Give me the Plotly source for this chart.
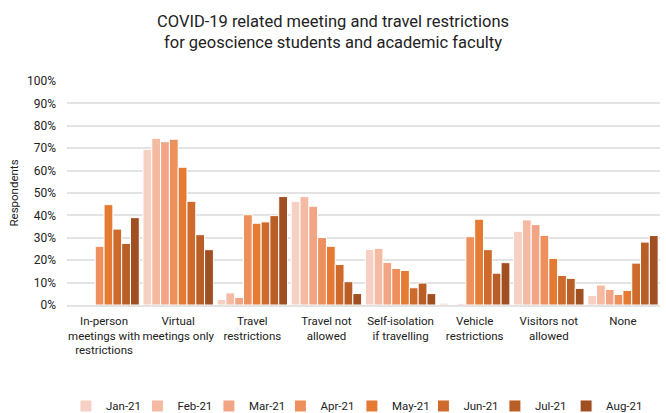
import plotly.graph_objects as go

categories = [
    "In-person<br>meetings with<br>restrictions",
    "Virtual<br>meetings only",
    "Travel<br>restrictions",
    "Travel not<br>allowed",
    "Self-isolation<br>if travelling",
    "Vehicle<br>restrictions",
    "Visitors not<br>allowed",
    "None",
]
months = ["Jan-21", "Feb-21", "Mar-21", "Apr-21", "May-21", "Jun-21", "Jul-21", "Aug-21"]

jan = [0.0, 69.4, 2.5, 46.3, 24.8, 0.8, 32.9, 4.3]
feb = [0.0, 74.4, 5.4, 48.4, 25.3, 0.0, 38.0, 8.9]
mar = [0.0, 72.9, 3.4, 44.1, 19.0, 0.5, 35.9, 6.9]
apr = [26.2, 74.0, 40.3, 30.1, 16.3, 30.5, 31.1, 4.7]
may = [44.8, 61.5, 36.5, 26.2, 15.4, 38.3, 20.8, 6.5]
jun = [33.9, 46.3, 37.1, 18.1, 7.7, 24.7, 13.2, 18.7]
jul = [27.5, 31.4, 39.9, 10.4, 9.8, 14.2, 11.9, 28.1]
aug = [39.0, 24.7, 48.4, 5.1, 5.1, 18.9, 7.4, 31.0]

series = [jan, feb, mar, apr, may, jun, jul, aug]
colors = ["#F7D0C4", "#F4BAA2", "#F1A585", "#EE8F5E", "#E57A33", "#CF6A2D", "#B95E27", "#A04F22"]

FONT = "Roboto, sans-serif"

fig = go.Figure()
for i, (name, vals, col) in enumerate(zip(months, series, colors)):
    fig.add_trace(go.Bar(
        x=categories, y=[v / 100 for v in vals], name=name,
        marker=dict(color=col, line=dict(color="white", width=1)),
        legend="legend2" if i == len(months) - 1 else "legend",
    ))

legend_common = dict(
    orientation="h", xanchor="left", xref="container",
    y=0.017, yanchor="middle", yref="container",
    font=dict(size=11.5), itemwidth=30, traceorder="normal",
)

fig.update_layout(
    width=666, height=413,
    font=dict(family=FONT, size=12, color="#222"),
    paper_bgcolor="white", plot_bgcolor="white",
    barmode="group", bargap=0.05, bargroupgap=0,
    margin=dict(l=67, r=6, t=81, b=108, autoexpand=False),
    title=dict(
        text="COVID-19 related meeting and travel restrictions<br>for geoscience students and academic faculty",
        x=0.5, xanchor="center", xref="container", y=0.935, yanchor="top", yref="container",
        font=dict(family=FONT, size=16.5, color="#222"),
    ),
    yaxis=dict(
        range=[0, 1.0], tickformat=".0%", dtick=0.1, automargin=False,
        gridcolor="#E3E3E3", gridwidth=1.5, zeroline=False,
        showline=False, ticks="", ticklabelstandoff=10,
        title=dict(text="Respondents", font=dict(size=11.5), standoff=5),
        tickfont=dict(size=12),
    ),
    xaxis=dict(
        showline=True, linecolor="#E3E3E3", linewidth=1.5, automargin=False,
        ticks="", tickangle=0, tickfont=dict(size=11.5), ticklabelstandoff=4,
    ),
    legend=dict(x=0.099, entrywidth=26.5, entrywidthmode="pixels", **legend_common),
    legend2=dict(x=0.85, **legend_common),
)

fig.write_html("out.html", config={"displayModeBar": False},
               post_script="document.body.style.margin='0';")
